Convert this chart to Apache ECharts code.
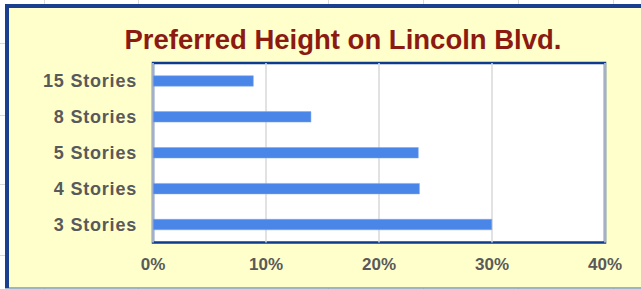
<!DOCTYPE html>
<html>
<head>
<meta charset="utf-8">
<script src="https://cdn.jsdelivr.net/npm/echarts@6/dist/echarts.min.js"></script>
<style>
html,body{margin:0;padding:0;background:#fff;}
#chart{width:641px;height:289px;}
</style>
</head>
<body>
<div id="chart"></div>
<script>
var categories = ['3 Stories', '4 Stories', '5 Stories', '8 Stories', '15 Stories'];
var values = [0.300, 0.236, 0.235, 0.140, 0.089];
var xTicks = [0, 0.1, 0.2, 0.3, 0.4];
var titleText = 'Preferred Height on Lincoln Blvd.';

var chart = echarts.init(document.getElementById('chart'), null, {renderer: 'svg'});

var sheetLines = [];
[44, 138, 328, 423, 518, 613].forEach(function (x) {
  sheetLines.push({type: 'line', silent: true, z: -10, shape: {x1: x + 0.5, y1: 0, x2: x + 0.5, y2: 289}, style: {stroke: '#d9d9d9', lineWidth: 1}});
});
[43, 115, 184, 255].forEach(function (y) {
  sheetLines.push({type: 'line', silent: true, z: -10, shape: {x1: 0, y1: y + 0.5, x2: 641, y2: y + 0.5}, style: {stroke: '#d9d9d9', lineWidth: 1}});
});

var option = {
  backgroundColor: '#ffffff',
  animation: false,
  graphic: sheetLines.concat([
    {type: 'rect', silent: true, z: -5, shape: {x: 5, y: 4, width: 700, height: 284}, style: {fill: '#ffffcc', stroke: null}},
    {type: 'line', silent: true, z: -4, shape: {x1: 5, y1: 288, x2: 641, y2: 288}, style: {stroke: '#7f9db9', lineWidth: 1.5}},
    {type: 'rect', silent: true, z: -4, shape: {x: 5, y: 4, width: 4, height: 284}, style: {fill: '#1a3f8f'}},
    {type: 'rect', silent: true, z: -4, shape: {x: 5, y: 4, width: 636, height: 4}, style: {fill: '#1a3f8f'}}
  ]),
  title: {
    text: titleText,
    left: 338,
    top: 20,
    textAlign: 'center',
    textStyle: {
      fontFamily: 'Liberation Sans, Arial, sans-serif',
      fontWeight: 'bold',
      fontSize: 27.5,
      color: '#8b1a10'
    }
  },
  grid: {
    left: 153,
    top: 63,
    right: 36,
    bottom: 46.5,
    show: true,
    backgroundColor: '#ffffff',
    borderColor: '#0d3b8e',
    borderWidth: 2.5,
    containLabel: false
  },
  xAxis: {
    type: 'value',
    min: xTicks[0],
    max: xTicks[xTicks.length - 1],
    interval: 0.1,
    axisLine: {show: false},
    axisTick: {show: false},
    splitLine: {show: true, lineStyle: {color: '#d9d9d9', width: 1.5}},
    axisLabel: {
      margin: 13,
      formatter: function (v) { return Math.round(v * 100) + '%'; },
      fontFamily: 'Liberation Sans, Arial, sans-serif',
      fontWeight: 'bold',
      fontSize: 17,
      color: '#595959'
    }
  },
  yAxis: {
    type: 'category',
    data: categories,
    axisLine: {show: false},
    axisTick: {show: false},
    splitLine: {show: false},
    axisLabel: {
      margin: 16,
      fontFamily: 'Liberation Sans, Arial, sans-serif',
      fontWeight: 'bold',
      fontSize: 18,
      color: '#595959'
    }
  },
  series: [{
    type: 'bar',
    data: values,
    barWidth: 11,
    itemStyle: {color: '#4a86e8', borderColor: '#7aa7ee', borderWidth: 0.5}
  }]
};
chart.setOption(option);

// widen letter spacing of the category labels, as in the reference
var texts = document.querySelectorAll('#chart svg text');
texts.forEach(function (t) {
  if (categories.indexOf(t.textContent) >= 0) {
    t.style.letterSpacing = '0.8px';
  }
});
</script>
</body>
</html>
